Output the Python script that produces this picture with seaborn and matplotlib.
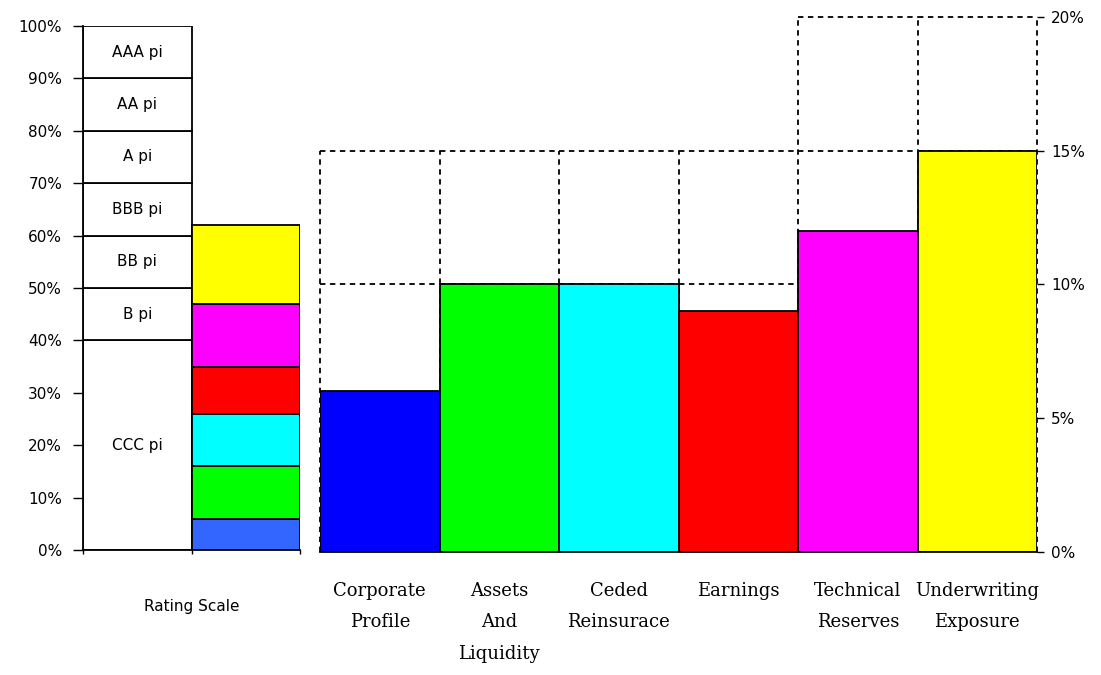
import numpy as np
import pandas as pd
import matplotlib
matplotlib.use("Agg")
import matplotlib.pyplot as plt
import seaborn as sns

# ---------------- data ----------------
categories = ["Corporate\nProfile", "Assets\nAnd\nLiquidity", "Ceded\nReinsurace",
              "Earnings", "Technical\nReserves", "Underwriting\nExposure"]
weights = [6, 10, 10, 9, 12, 15]            # % (right axis)
band_low = [10, 10, 10, 10, 15, 15]         # dashed inner limit
band_high = [15, 15, 15, 15, 20, 20]        # dashed outer limit
bar_colors = ["#0000FF", "#00FF00", "#00FFFF", "#FF0000", "#FF00FF", "#FFFF00"]
stack_colors = ["#3366FF", "#00FF00", "#00FFFF", "#FF0000", "#FF00FF", "#FFFF00"]

rating_labels = ["CCC pi", "B pi", "BB pi", "BBB pi", "A pi", "AA pi", "AAA pi"]
rating_bounds = [0, 40, 50, 60, 70, 80, 90, 100]
left_ticks = list(range(0, 101, 10))
right_ticks = [0, 5, 10, 15, 20]
left_label = "Rating Scale"

# ---------------- style ----------------
sns.set_style("white")
plt.rcParams["font.family"] = ["DejaVu Sans"]
plt.rcParams["text.color"] = "black"
plt.rcParams["xtick.color"] = "black"
plt.rcParams["ytick.color"] = "black"
plt.rcParams["xtick.labelcolor"] = "black"
plt.rcParams["ytick.labelcolor"] = "black"

W, H = 1101, 675
fig = plt.figure(figsize=(W / 100, H / 100), dpi=100)
fig.patch.set_facecolor("white")

def frac(x0, y_top, x1, y_bot):
    return [x0 / W, 1 - y_bot / H, (x1 - x0) / W, (y_bot - y_top) / H]

axL = fig.add_axes(frac(83, 26, 300, 550))
axR = fig.add_axes(frac(320, 17, 1037, 551.5))

tick_font = dict(family="DejaVu Sans", size=11, color="black")
LW = 1.3

# ---------------- left panel ----------------
for i, lab in enumerate(rating_labels):
    lo, hi = rating_bounds[i], rating_bounds[i + 1]
    axL.bar(0, hi - lo, bottom=lo, width=1.0, color="white", edgecolor="black",
            linewidth=LW, zorder=2)
    axL.text(0, (lo + hi) / 2, lab, ha="center", va="center", **tick_font, zorder=3)

bottom = 0
for v, c in zip(weights, stack_colors):
    axL.bar(1, v, bottom=bottom, width=1.0, color=c, edgecolor="black",
            linewidth=LW, zorder=2)
    bottom += v

axL.set_xlim(-0.5, 1.5)
axL.set_ylim(0, 100)
axL.set_yticks(left_ticks)
axL.set_yticklabels([f"{t}%" for t in left_ticks], **tick_font)
axL.set_xticks([-0.5, 0.5, 1.5])
axL.set_xticklabels([])
axL.tick_params(axis="y", direction="out", length=7, width=1, pad=8, color="black", left=True)
axL.tick_params(axis="x", direction="out", length=3, width=1, color="black", bottom=True)
for s in ["top", "right"]:
    axL.spines[s].set_visible(False)
for s in ["left", "bottom"]:
    axL.spines[s].set_color("black")
    axL.spines[s].set_linewidth(LW)
axL.set_xlabel("")
axL.set_ylabel("")
axL.text(0.5, -0.108, left_label, transform=axL.get_xaxis_transform(),
         ha="center", va="center", **tick_font)

# ---------------- right panel ----------------
df = pd.DataFrame({"category": categories, "weight": weights})
n = len(categories)
xs = np.arange(n)
dash = (0, (3, 2.5))

# dashed limit boxes: horizontal edges per category
for y_arr in (band_low, band_high):
    axR.hlines(y_arr, xs - 0.5, xs + 0.5, colors="black", linestyles=dash,
               linewidth=LW, zorder=0.5, clip_on=False)
# vertical edges drawn once per boundary (tallest neighbouring limit)
edges_x = np.arange(n + 1) - 0.5
edges_top = [max(band_high[max(k - 1, 0)], band_high[min(k, n - 1)]) for k in range(n + 1)]
axR.vlines(edges_x, 0, edges_top, colors="black", linestyles=dash,
           linewidth=LW, zorder=0.5, clip_on=False)

sns.barplot(data=df, x="category", y="weight", hue="category", order=categories,
            hue_order=categories, palette=bar_colors, saturation=1, width=1.0,
            edgecolor="black", linewidth=LW, legend=False, ax=axR, zorder=2)

axR.set_xlim(-0.5, n - 0.5)
axR.set_ylim(0, 20)
axR.yaxis.tick_right()
axR.set_yticks(right_ticks)
axR.set_yticklabels([f"{t}%" for t in right_ticks], **tick_font)
axR.tick_params(axis="y", direction="out", length=5, width=1, pad=5, color="black", right=True)
axR.tick_params(axis="x", length=0, pad=22)
for lab in axR.get_xticklabels():
    lab.set_fontfamily("DejaVu Serif")
    lab.set_fontsize(13)
    lab.set_linespacing(1.95)
    lab.set_verticalalignment("top")
    lab.set_color("black")
for s in ["top", "left", "right"]:
    axR.spines[s].set_visible(False)
axR.spines["bottom"].set_color("black")
axR.spines["bottom"].set_linewidth(LW)
axR.set_xlabel("")
axR.set_ylabel("")

fig.savefig("out.png", dpi=100, facecolor="white")
